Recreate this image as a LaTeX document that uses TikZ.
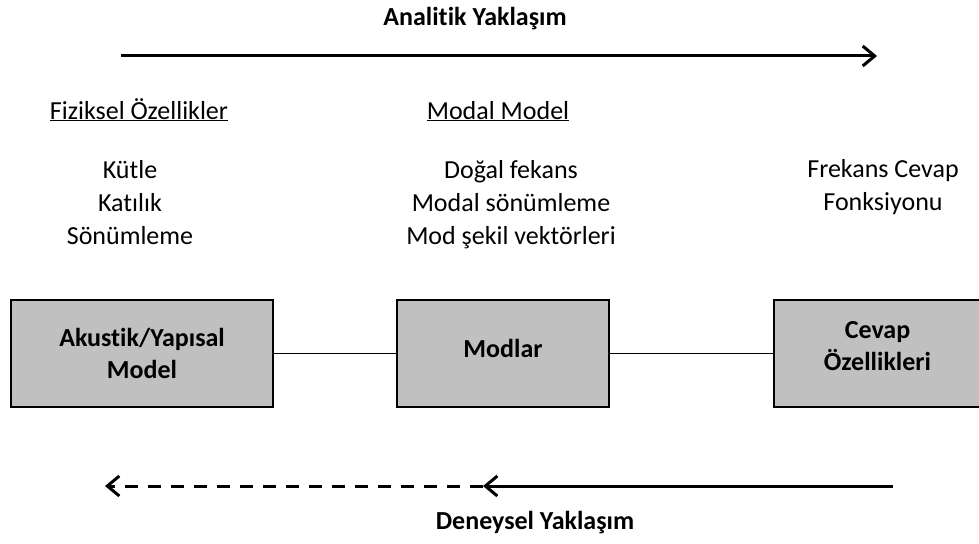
\documentclass[tikz,border=0pt]{standalone}
\usepackage{fontspec}
\setmainfont{Carlito}[Ligatures=NoCommon]
\usetikzlibrary{arrows.meta}
\definecolor{kutugri}{RGB}{192,192,192}
\tikzset{
  kutu/.style={draw, line width=2pt, fill=kutugri, minimum height=107pt, inner sep=0pt, align=center, font=\fontsize{26}{32}\selectfont\bfseries},
  liste/.style={align=center},
  yonok/.style={line width=3pt, -{Straight Barb[length=12pt, width=20pt]}}
}

\begin{document}
\begin{tikzpicture}[x=1pt, y=-1pt, font=\fontsize{26}{33}\selectfont]
    \useasboundingbox (0,0) rectangle (979,543);
    % kutular
    \node[kutu, minimum width=262pt] (akustik) at (142,353) {Akustik/Yapısal\\Model};
    \node[kutu, minimum width=212pt] (modlar) at (503,353) {\raisebox{10pt}{Modlar}};
    \node[kutu, minimum width=207pt, text depth=15pt] (cevap) at (877.5,353) {Cevap\\Özellikleri};
    \draw[line width=1pt] (akustik) -- (modlar);
    \draw[line width=1pt] (modlar) -- (cevap);
    % basliklar
    \node[anchor=base] (fiziksel) at (139,119) {\underline{Fiziksel Özellikler}};
    \node[anchor=base] (modal) at (498,119) {\underline{Modal Model}};
    \node[liste] (fizikliste) at (130,203) {Kütle\\Katılık\\Sönümleme};
    \node[liste] (modalliste) at (511,205) {Doğal fekans\\Modal sönümleme\\Mod şekil vektörleri};
    \node[liste] (cevapliste) at (883,187) {Frekans Cevap\\Fonksiyonu};
    % yaklasimlar
    \node (analitik) at (475,19) {\bfseries Analitik Yaklaşım};
    \node (deneysel) at (535,523) {\bfseries Deneysel Yaklaşım};
    \coordinate (a1) at (121,56);
    \coordinate (a2) at (877,56);
    \draw[yonok] (a1) -- (a2);
    \coordinate (d1) at (893,486);
    \coordinate (d2) at (483,486);
    \coordinate (d3) at (105,486);
    \draw[yonok] (d1) -- (d2);
    \draw[yonok, dash pattern=on 13pt off 10pt] (d2) -- (d3);
\end{tikzpicture}
\end{document}
